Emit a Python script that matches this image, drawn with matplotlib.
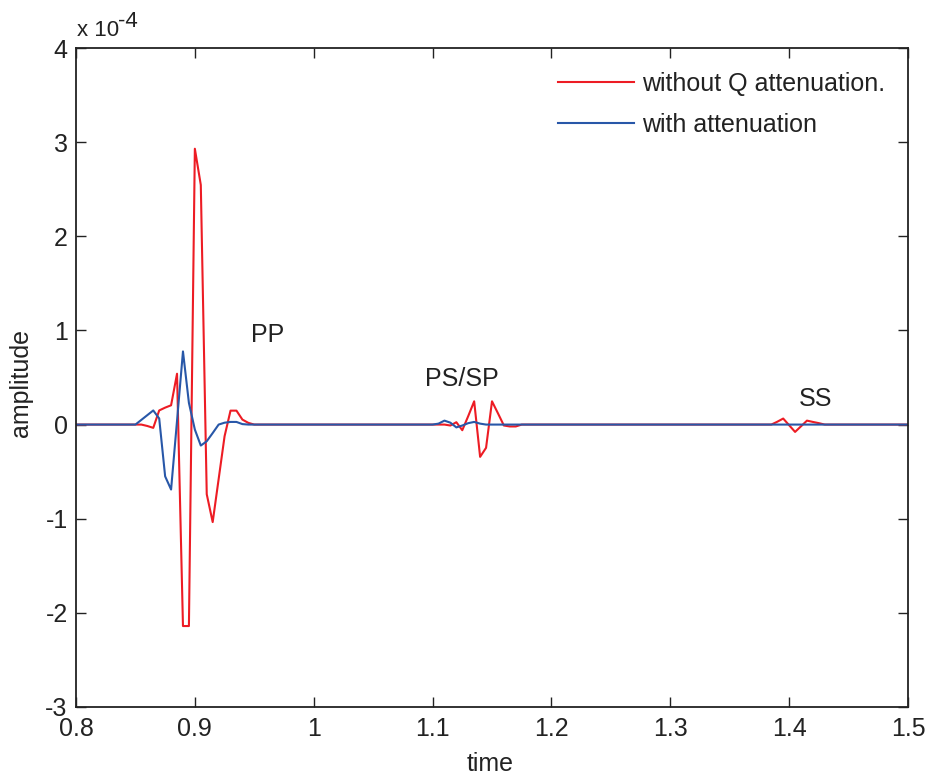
import matplotlib
matplotlib.use("Agg")
import matplotlib.pyplot as plt

plt.rcParams['font.family'] = ['Liberation Sans', 'DejaVu Sans']

# amplitude values in units of 1e-4
time = [0.8,
        0.85, 0.855, 0.86, 0.865, 0.87, 0.875, 0.88, 0.885, 0.89, 0.895, 0.9,
        0.905, 0.91, 0.915, 0.92, 0.925, 0.93, 0.935, 0.94, 0.945, 0.95,
        1.1, 1.105, 1.11, 1.115, 1.12, 1.125, 1.13, 1.135, 1.14, 1.145, 1.15,
        1.155, 1.16, 1.165, 1.17, 1.175,
        1.38, 1.385, 1.39, 1.395, 1.4, 1.405, 1.41, 1.415, 1.42, 1.425, 1.43,
        1.5]
without_q = [0,
             0, 0, -0.015, -0.035, 0.15, 0.18, 0.205, 0.54, -2.14, -2.14, 2.93,
             2.545, -0.74, -1.036, -0.58, -0.124, 0.148, 0.148, 0.053, 0.018, 0,
             0, 0, 0, -0.01, 0.025, -0.06, 0.09, 0.247, -0.343, -0.247, 0.247,
             0.12, -0.01, -0.02, -0.02, 0,
             0, 0, 0.03, 0.064, -0.007, -0.078, -0.018, 0.042, 0.028, 0.015, 0,
             0]
with_q = [0,
          0, 0.05, 0.10, 0.15, 0.065, -0.55, -0.69, 0.04, 0.777, 0.23, -0.053,
          -0.223, -0.177, -0.09, 0.0, 0.02, 0.028, 0.028, 0.005, 0, 0,
          0, 0.01, 0.042, 0.02, -0.03, -0.01, 0.015, 0.028, 0.01, 0, 0,
          0, 0, 0, 0, 0,
          0, 0, 0, 0, 0, 0, 0, 0, 0, 0, 0,
          0]
labels = ["without Q attenuation.", "with attenuation"]
annotations = [("PP", 0.9615, 0.95), ("PS/SP", 1.1247, 0.48), ("SS", 1.4224, 0.27)]
xticks = [0.8, 0.9, 1.0, 1.1, 1.2, 1.3, 1.4, 1.5]
xticklabels = ["0.8", "0.9", "1", "1.1", "1.2", "1.3", "1.4", "1.5"]
yticks = [-3, -2, -1, 0, 1, 2, 3, 4]
yticklabels = ["-3", "-2", "-1", "0", "1", "2", "3", "4"]

FS = 18
TC = '#222222'
fig = plt.figure(figsize=(9.28, 7.79), dpi=100)
ax = fig.add_axes([76/928, 1 - 707/779, (908-76)/928, (707-48)/779])

ax.plot(time, without_q, color='#ED1C24', lw=1.5, label=labels[0])
ax.plot(time, with_q, color='#2857A8', lw=1.5, label=labels[1])

ax.set_xlim(0.8, 1.5)
ax.set_ylim(-3, 4)
ax.set_xticks(xticks)
ax.set_xticklabels(xticklabels)
ax.set_yticks(yticks)
ax.set_yticklabels(yticklabels)
ax.tick_params(direction='in', top=True, right=True, length=7, width=1.0,
               labelsize=FS, colors=TC)
ax.tick_params(axis='x', pad=7)
ax.tick_params(axis='y', pad=6)
for s in ax.spines.values():
    s.set_linewidth(1.3)
    s.set_color(TC)

for txt, x, y in annotations:
    ax.text(x, y, txt, fontsize=FS, ha='center', va='center', color=TC)

fig.text(490/928, 1 - 764/779, "time", fontsize=FS, ha='center', va='center', color=TC)
fig.text(21/928, 1 - 383/779, "amplitude", fontsize=FS, ha='center', va='center',
         rotation=90, color=TC)
base = fig.text(77/928, 1 - 36/779, "x 10", fontsize=16, ha='left', va='baseline', color=TC)
fig.canvas.draw()
bb = base.get_window_extent()
fig.text(bb.x1 / 928 - 1/928, 1 - 27/779, "-4", fontsize=16, ha='left', va='baseline', color=TC)

leg = ax.legend(loc='upper left', bbox_to_anchor=((558-76)/832, (707-72)/659),
                frameon=False, fontsize=FS, handlelength=3.05, handletextpad=0.3,
                labelspacing=0.68, borderpad=0, borderaxespad=0)
for t in leg.get_texts():
    t.set_color(TC)

fig.savefig("out.png", dpi=100)
